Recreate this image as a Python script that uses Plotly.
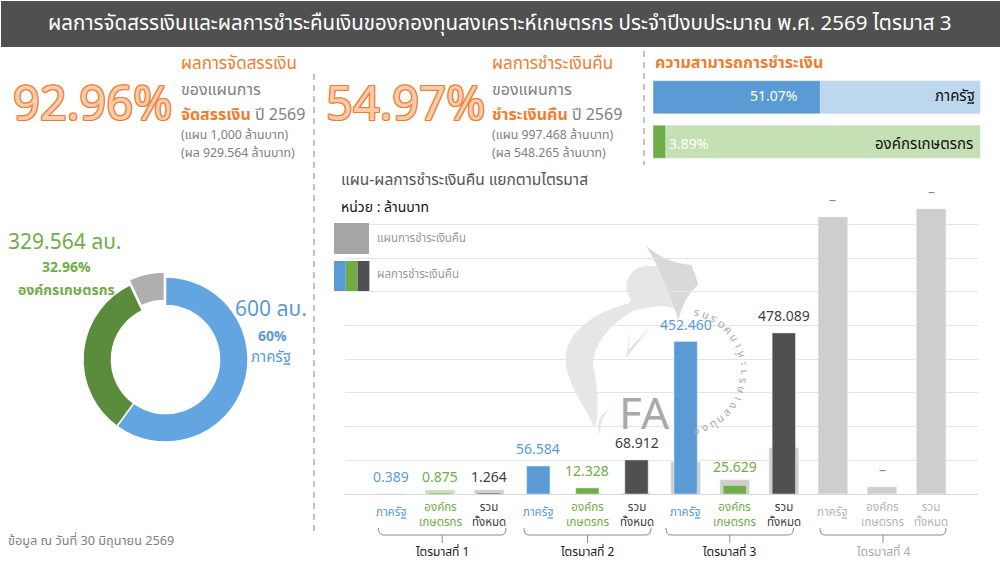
import math
import plotly.graph_objects as go

# values
title = "ผลการจัดสรรเงินและผลการชำระคืนเงินของกองทุนสงเคราะห์เกษตรกร ประจำปีงบประมาณ พ.ศ. 2569 ไตรมาส 3"

donut_names = ["ภาครัฐ", "องค์กรเกษตรกร", "คงเหลือ"]
donut_values = [600, 329.564, 70.436]

ability_names = ["ภาครัฐ", "องค์กรเกษตรกร"]
ability_done = [51.07, 3.89]
ability_rest = [48.93, 96.11]

# heights of the bars as they are drawn in the picture (not proportional to the printed labels in Q2)
plan_bars = [0, 12, 12, 0, 0, 3, 95, 42, 137, 822, 21, 846]
paid_bars = [0, 3, 3, 83, 18, 101, 452.46, 25.629, 478.089, 0, 0, 0]
value_labels = ["0.389", "0.875", "1.264", "56.584", "12.328", "68.912",
                "452.460", "25.629", "478.089", "–", "–", "–"]
cat_labels = ["ภาครัฐ", "องค์กร<br>เกษตรกร", "รวม<br>ทั้งหมด"] * 4
quarters = ["ไตรมาสที่ 1", "ไตรมาสที่ 2", "ไตรมาสที่ 3", "ไตรมาสที่ 4"]

FONT = "Noto Sans Thai, Lato, Noto Sans, sans-serif"
ORANGE = "#ed7d31"
BLUE = "#5b9bd5"
GREEN = "#70ad47"
DARK = "#505050"
GREY = "#7f7f7f"
PLAN = "#cfcdcd"


def px(x):
    return x / 1000


def py(y):
    return 1 - y / 562


annots = []
shapes = []


def txt(x, y, s, size=14, color=GREY, anchor="left", **kw):
    annots.append(dict(x=px(x), y=py(y), xref="paper", yref="paper", text=s, showarrow=False,
                       borderpad=0, borderwidth=0, xanchor=anchor, yanchor="middle",
                       font=dict(family=FONT, size=size, color=color, **kw)))


fig = go.Figure()

# donut
fig.add_trace(go.Pie(labels=donut_names, values=donut_values, hole=0.655, sort=False, direction="clockwise",
                     rotation=0, pull=[0, 0, 0.06], textinfo="none", showlegend=False,
                     marker=dict(colors=["#62a5e1", "#5b8c3b", "#aeaeae"], line=dict(color="white", width=1.5)),
                     domain=dict(x=[px(78), px(253)], y=[py(447), py(272)])))

# ability bars
fig.add_trace(go.Bar(y=ability_names, x=ability_rest, base=ability_done, orientation="h", width=0.74,
                     marker_color=["#bdd7ee", "#c5e0b4"], showlegend=False, xaxis="x2", yaxis="y2"))
fig.add_trace(go.Bar(y=ability_names, x=ability_done, orientation="h", width=0.74,
                     marker_color=[BLUE, GREEN], showlegend=False, xaxis="x2", yaxis="y2"))

# plan / paid bars
xs = list(range(12))
paid_cols = [BLUE, GREEN, DARK] * 4
plan_cols = [PLAN] * 12
plan_cols[1] = "#c5e0b4"
fig.add_trace(go.Bar(x=xs, y=plan_bars, width=0.6, marker_color=plan_cols, showlegend=False))
fig.add_trace(go.Bar(x=xs, y=paid_bars, width=0.475, marker_color=paid_cols, showlegend=False))

for i in xs:
    col = [BLUE, GREEN, "#404040"][i % 3]
    if i >= 9:
        col = "#8c8c8c"
    # labels that sit on a plan bar taller than the paid bar are closer to it
    shift = 0 if 0 < paid_bars[i] < plan_bars[i] else 4
    annots.append(dict(x=i, y=max(plan_bars[i], paid_bars[i]), xref="x", yref="y", text=value_labels[i],
                       showarrow=False, yanchor="bottom", yshift=shift,
                       font=dict(family=FONT, size=14, color=col)))
    tick_col = [BLUE, GREEN, "#404040"][i % 3] if i < 9 else "#b5b5b5"
    annots.append(dict(x=i, y=py(512 if i % 3 == 0 else 514.5), xref="x", yref="paper", text=cat_labels[i],
                       showarrow=False, yanchor="middle", font=dict(family=FONT, size=11.5, color=tick_col)))

# quarter brackets
bracket_px = [(378.5, 506), (524, 651), (666, 793.5), (820, 946)]
for q, (x0, x1) in enumerate(bracket_px):
    mid = (x0 + x1) / 2
    p = (f"M {px(x0)} {py(528)} Q {px(x0)} {py(535)} {px(x0 + 5)} {py(535)} L {px(x1 - 5)} {py(535)} "
         f"Q {px(x1)} {py(535)} {px(x1)} {py(528)} M {px(mid)} {py(535)} L {px(mid)} {py(543)}")
    shapes.append(dict(type="path", xref="paper", yref="paper", path=p, line=dict(color="#8c8c8c", width=1)))
    txt(mid, 552, quarters[q], 12, "#222222" if q < 3 else "#aaaaaa", "center")

# header
shapes.append(dict(type="rect", xref="paper", yref="paper", x0=px(1), x1=1, y0=py(47), y1=py(1),
                   fillcolor=DARK, line=dict(width=0), layer="below"))
txt(500, 24, title, 20.5, "white", "center")

# dashed separators
for x, y0, y1 in [(314, 74, 533), (644, 51, 165)]:
    shapes.append(dict(type="line", xref="paper", yref="paper", x0=px(x), x1=px(x), y0=py(y0), y1=py(y1),
                       line=dict(color="#b0b0b0", width=1.5, dash="6px,5px")))

# KPI blocks
outline = ",".join(f"{a}px {b}px 0 {ORANGE}" for a, b in [(1, 0), (-1, 0), (0, 1), (0, -1), (1, 1), (-1, -1), (1, -1), (-1, 1)])
for cx, x, pct, head, bold, plan, done in [
    (92, 181, "92.96%", "ผลการจัดสรรเงิน", "จัดสรรเงิน", "(แผน 1,000 ล้านบาท)", "(ผล 929.564 ล้านบาท)"),
    (405, 492, "54.97%", "ผลการชำระเงินคืน", "ชำระเงินคืน", "(แผน 997.468 ล้านบาท)", "(ผล 548.265 ล้านบาท)"),
]:
    txt(cx, 106, pct, 47, "#f8cbad", "center", shadow=outline)
    txt(x, 64, head, 17, ORANGE)
    txt(x, 90, "ของแผนการ", 16)
    txt(x, 115, f'<b><span style="color:{ORANGE}">{bold}</span></b> ปี 2569', 16)
    txt(x, 135, plan, 12.3)
    txt(x, 153, done, 12.3)

txt(655, 63, "<b>ความสามารถการชำระเงิน</b>", 16, ORANGE)
txt(773, 96, "51.07%", 14, "white", "center")
txt(669, 144, "3.89%", 14, "white")
txt(975, 97, "ภาครัฐ", 15, "#111111", "right")
txt(973, 144, "องค์กรเกษตรกร", 15, "#111111", "right")

# donut labels
txt(8, 242, "329.564 ลบ.", 21, GREEN)
txt(66, 267, "<b>32.96%</b>", 14, GREEN, "center")
txt(66, 290, "<b>องค์กรเกษตรกร</b>", 14, GREEN, "center")
txt(235, 309, "600 ลบ.", 21, BLUE)
txt(272, 336, "<b>60%</b>", 14, BLUE, "center")
txt(271, 358, "ภาครัฐ", 15, BLUE, "center")
txt(8, 541, "ข้อมูล ณ วันที่ 30 มิถุนายน 2569", 12.7, GREY)

# chart heading and hand drawn legend
txt(341, 180, "แผน-ผลการชำระเงินคืน แยกตามไตรมาส", 15.5, "#555555")
txt(341, 207, "หน่วย : ล้านบาท", 14, "#111111")
shapes.append(dict(type="rect", xref="paper", yref="paper", x0=px(334), x1=px(369), y0=py(254), y1=py(223),
                   fillcolor="#a6a6a6", line=dict(width=0)))
for i, c in enumerate([BLUE, GREEN, DARK]):
    shapes.append(dict(type="rect", xref="paper", yref="paper", x0=px(334 + i * 11.8), x1=px(334 + (i + 1) * 11.8),
                       y0=py(291), y1=py(261), fillcolor=c, line=dict(width=0)))
txt(377, 238, "แผนการชำระเงินคืน", 11.5, "#999999")
txt(377, 275, "ผลการชำระเงินคืน", 11.5, "#999999")


# watermark
def path_px(cmds):
    out = []
    for c in cmds:
        if isinstance(c, str):
            out.append(c)
        else:
            out.append(f"{px(550 + c[0] / 3)} {py(235 + c[1] / 3)}")
    return " ".join(out)


wm = [
    (["M", (345, 100), "C", (265, 75), (225, 115), (230, 165), "C", (235, 190), (250, 195), (235, 205),
      "C", (120, 235), (45, 300), (47, 375), "C", (50, 450), (110, 520), (135, 580),
      "C", (150, 520), (140, 440), (130, 395), "C", (125, 330), (185, 260), (255, 225),
      "C", (310, 215), (350, 205), (380, 225), "Q", (360, 150), (345, 100), "Z"], "#e6e6e6"),
    (["M", (288, 33), "Q", (350, 85), (425, 90), "L", (445, 148), "Q", (400, 190), (385, 255), "Q", (345, 125), (288, 33), "Z"], "#d9d9d9"),
    (["M", (240, 282), "L", (228, 368), "L", (305, 272), "L", (235, 345), "Z"], "#e2e2e2"),
    (["M", (180, 520), "Q", (130, 550), (150, 600), "Q", (150, 550), (180, 520), "Z"], "#e6e6e6"),
]
for w, c in wm:
    shapes.append(dict(type="path", xref="paper", yref="paper", path=path_px(w),
                       fillcolor=c, line=dict(width=0), layer="below"))
txt(644, 416, "FA", 44, "#a9a9a9", "center")
arc = ["อ", "ง", "ทุ", "น", "ส", "ง", "เ", "ค", "ร", "า", "ะ", "ห์", "เ", "ก", "ษ", "ต", "ร", "ก", "ร"]
for i, ch in enumerate(arc):
    a = 167 - i * 8.55
    annots.append(dict(x=px(683 + 60 * math.sin(math.radians(a))), y=py(372 - 60 * math.cos(math.radians(a))),
                       xref="paper", yref="paper", text=ch, showarrow=False, textangle=a - 180,
                       xanchor="center", yanchor="middle", font=dict(family=FONT, size=11, color="#aaaaaa")))

fig.update_layout(
    width=1000, height=562, autosize=False,
    margin=dict(l=0, r=0, t=0, b=0),
    paper_bgcolor="white", plot_bgcolor="rgba(0,0,0,0)",
    barmode="overlay",
    shapes=shapes, annotations=annots,
    xaxis=dict(domain=[px(345), px(978)], range=[-0.937, 11.955], showgrid=False, showticklabels=False,
               zeroline=False, ticks="", showline=True, linecolor="#d9d9d9", anchor="y"),
    yaxis=dict(domain=[py(494), py(190.7)], range=[0, 900], dtick=100, showticklabels=False, gridcolor="#e4e4e4",
               gridwidth=1.3, zeroline=False, ticks=""),
    xaxis2=dict(domain=[px(653), px(980.5)], range=[0, 100], visible=False, anchor="y2"),
    yaxis2=dict(domain=[py(164), py(75)], autorange="reversed", visible=False, anchor="x2", type="category"),
)
fig.write_html("out.html", config={"displayModeBar": False}, post_script="document.body.style.margin='0';")
